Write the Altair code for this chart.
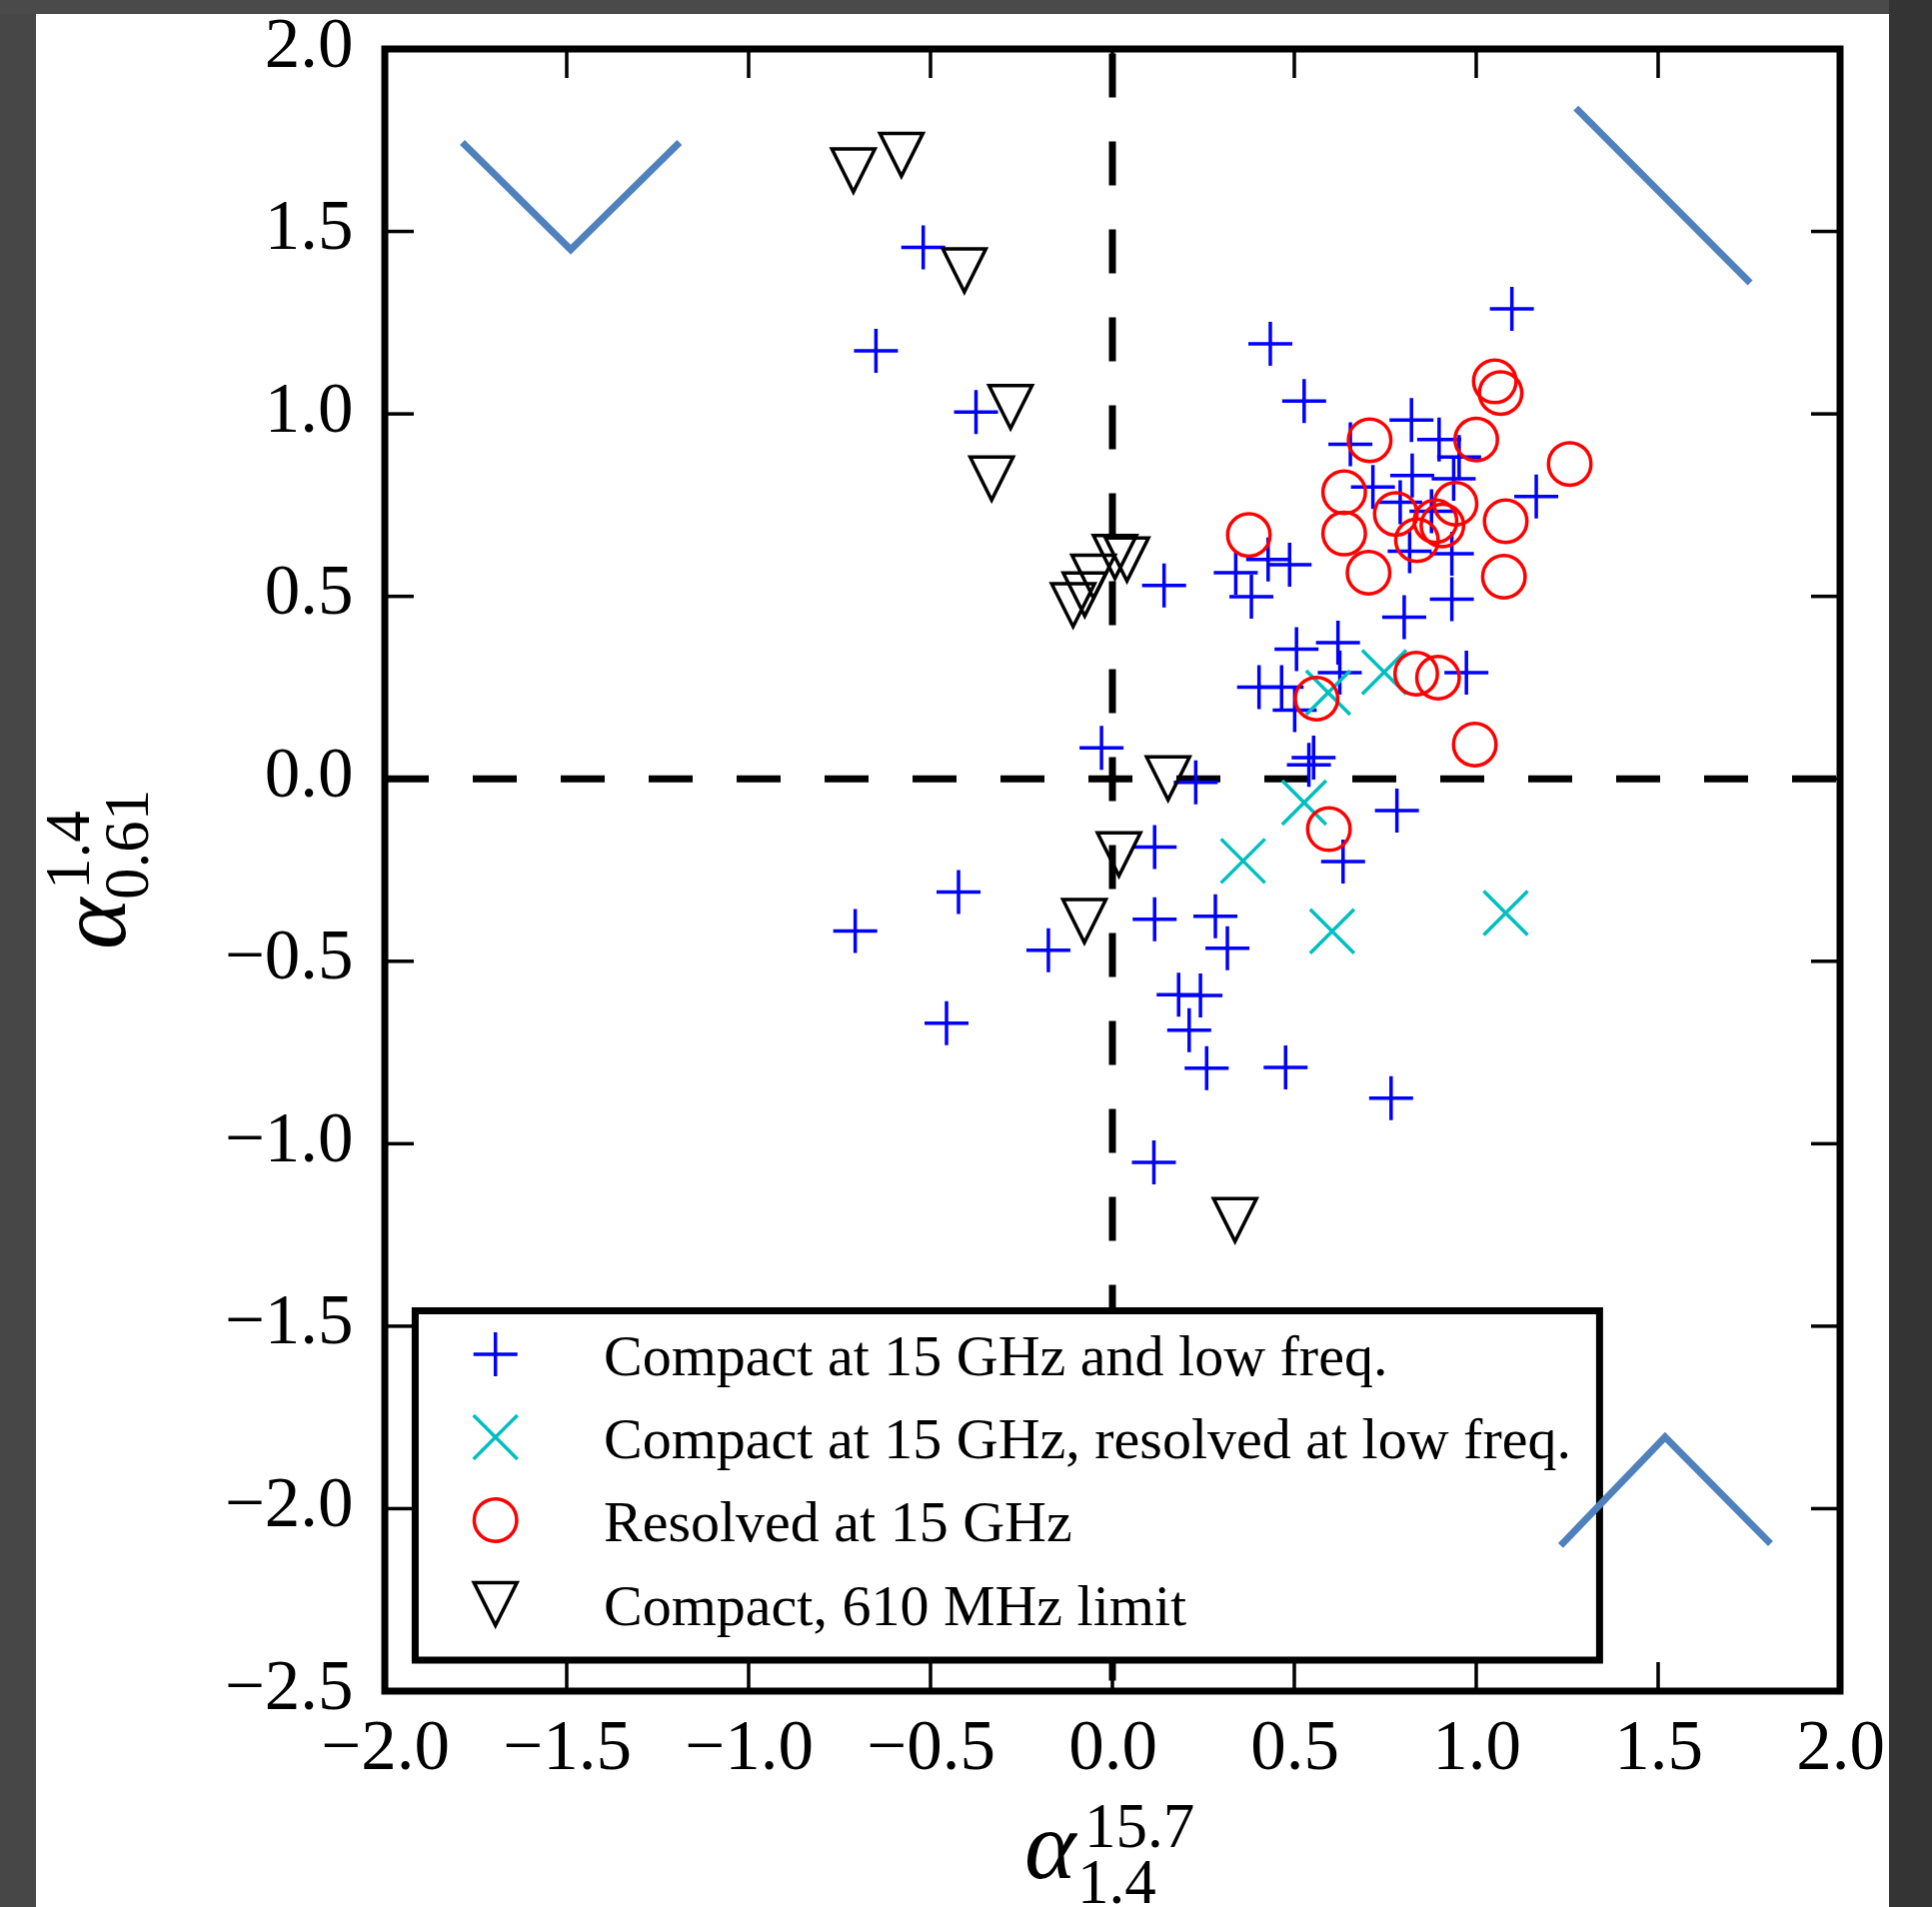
import altair as alt
import pandas as pd

# ---------------- data ----------------
cross_x = [-0.520, -0.650, -0.375, 0.434, 0.527, 1.098, 0.822, 0.898, 0.953, 0.654,
           0.716, 0.824, 0.938, 0.791, 0.877, 1.165, 0.817, 0.933, 0.933, 0.802,
           0.142, 0.339, 0.382, 0.428, 0.487, 0.506, 0.620, 0.625, 0.403, 0.465,
           0.501, 0.973, 0.553, 0.540, -0.030, 0.229, 0.782, 0.634, 0.116, -0.423,
           -0.707, -0.176, 0.116, 0.283, 0.316, 0.182, 0.242, 0.211, -0.456, 0.259,
           0.476, 0.766, 0.114]
cross_y = [1.456, 1.173, 1.005, 1.192, 1.035, 1.288, 0.983, 0.930, 0.882, 0.917,
           0.800, 0.831, 0.822, 0.758, 0.733, 0.774, 0.624, 0.617, 0.492, 0.443,
           0.530, 0.565, 0.499, 0.601, 0.587, 0.355, 0.373, 0.291, 0.251, 0.251,
           0.188, 0.291, 0.058, 0.038, 0.085, -0.010, -0.087, -0.227, -0.187, -0.310,
           -0.417, -0.470, -0.385, -0.377, -0.464, -0.592, -0.594, -0.689, -0.670, -0.793,
           -0.791, -0.875, -1.051]

xmark_x = [0.593, 0.747, 0.527, 0.359, 0.604, 1.081]
xmark_y = [0.236, 0.292, -0.065, -0.225, -0.418, -0.368]

circle_x = [1.051, 1.067, 0.707, 1.000, 1.257, 0.637, 0.779, 0.943, 0.888, 0.907,
            0.837, 1.081, 0.637, 0.375, 0.704, 1.076, 0.835, 0.895, 0.561, 0.996, 0.595]
circle_y = [1.089, 1.057, 0.928, 0.930, 0.863, 0.785, 0.726, 0.754, 0.706, 0.694,
            0.654, 0.706, 0.672, 0.668, 0.565, 0.554, 0.288, 0.277, 0.220, 0.094, -0.138]

tri_x = [-0.712, -0.580, -0.407, -0.280, -0.332, 0.007, 0.040, -0.052, -0.076, -0.108,
         0.153, 0.018, -0.077, 0.337]
tri_y = [1.667, 1.710, 1.393, 1.019, 0.823, 0.608, 0.601, 0.554, 0.505, 0.476,
         0.001, -0.207, -0.390, -1.209]

legend_labels = ["Compact at 15 GHz and low freq.",
                 "Compact at 15 GHz, resolved at low freq.",
                 "Resolved at 15 GHz",
                 "Compact, 610 MHz limit"]

# hand-drawn guide wedges (three polylines)
wedge_group = [0, 0, 0, 1, 1, 2, 2, 2]
wedge_order = [0, 1, 2, 0, 1, 0, 1, 2]
wedge_x = [-1.787, -1.489, -1.190, 1.274, 1.753, 1.232, 1.519, 1.809]
wedge_y = [1.744, 1.450, 1.744, 1.838, 1.359, -2.101, -1.804, -2.096]

x_label_values = [-2.0, -1.5, -1.0, -0.5, 0.0, 0.5, 1.0, 1.5, 2.0]
y_label_values = [-2.5, -2.0, -1.5, -1.0, -0.5, 0.0, 0.5, 1.0, 1.5, 2.0]
x_tick_values = [-1.5, -1.0, -0.5, 0.0, 0.5, 1.0, 1.5]
y_tick_values = [-2.0, -1.5, -1.0, -0.5, 0.0, 0.5, 1.0, 1.5]

# ---------------- layout / style ----------------
W, H = 1456, 1643
PAD = {"left": 385, "top": 49, "right": 92, "bottom": 216}
FONT = "Liberation Serif"
MS = 3.5

PLUS = "M-1,0L1,0M0,-1L0,1"
XSHAPE = "M-1,-1L1,1M-1,1L1,-1"
TRI = "M-1,-1L1,-1L0,1Z"

xscale = alt.Scale(domain=[-2, 2], nice=False, zero=False)
yscale = alt.Scale(domain=[-2.5, 2], nice=False, zero=False)

label_expr = ("datum.value < 0 ? '\u2212' + format(-datum.value, '.1f') "
              ": format(datum.value, '.1f')")

xaxis = alt.Axis(values=x_label_values, domain=False, ticks=False, tickSize=0, grid=False,
                 labelFont=FONT, labelFontSize=71, labelColor="black", labelPadding=77,
                 labelBaseline="alphabetic", labelAlign="center", labelFlush=False,
                 labelOverlap=False, labelBound=False, labelExpr=label_expr)
yaxis = alt.Axis(values=y_label_values, domain=False, ticks=False, tickSize=0, grid=False,
                 labelFont=FONT, labelFontSize=71, labelColor="black", labelPadding=32,
                 labelBaseline="alphabetic", labelAlign="right", labelOffset=17,
                 labelFlush=False, labelOverlap=False, labelBound=False, labelExpr=label_expr)


def X(field):
    return alt.X(field, type="quantitative", scale=xscale, axis=xaxis, title=None)


def Y(field):
    return alt.Y(field, type="quantitative", scale=yscale, axis=yaxis, title=None)


one = alt.Data(values=[{"a": 1}])

layers = []

# dark screenshot frame around the white figure
for (x0, x1, y0, y1, col) in [(-385, -349, -49, 1859, "#474747"),
                              (-385, 1548, -49, -35, "#4a4a4a"),
                              (1505, 1548, -49, 1859, "#343434")]:
    layers.append(alt.Chart(one).mark_rect(color=col).encode(
        x=alt.value(x0), x2=alt.value(x1), y=alt.value(y0), y2=alt.value(y1)))

# dashed zero lines
layers.append(alt.Chart(one).mark_rule(color="black", strokeWidth=7, strokeDash=[44, 44],
                                       strokeDashOffset=83.6).encode(
    x=alt.datum(0), y=alt.datum(2), y2=alt.datum(-2.5)))
layers.append(alt.Chart(one).mark_rule(color="black", strokeWidth=7, strokeDash=[44, 44]).encode(
    y=alt.datum(0), x=alt.datum(-2), x2=alt.datum(2)))

# scatter series
series = [
    (cross_x, cross_y, PLUS, "#0000ff", 1936),
    (xmark_x, xmark_y, XSHAPE, "#00bfbf", 1936),
    (circle_x, circle_y, "circle", "#ff0000", 1806),
    (tri_x, tri_y, TRI, "#000000", 1849),
]
for xs, ys, shp, col, sz in series:
    df = pd.DataFrame({"x": xs, "y": ys})
    layers.append(alt.Chart(df).mark_point(shape=shp, size=sz, filled=False, color=col,
                                           strokeWidth=MS, opacity=1).encode(
        x=X("x"), y=Y("y")))

# legend box
LB = dict(x0=30.4, x1=1215.4, y0=1262.4, y1=1612.0)
layers.append(alt.Chart(one).mark_rect(fill="white", stroke="black", strokeWidth=7).encode(
    x=alt.value(LB["x0"]), x2=alt.value(LB["x1"]), y=alt.value(LB["y0"]), y2=alt.value(LB["y1"])))
row_y = [1305.9, 1388.9, 1471.9, 1555.9]
for (xs, ys, shp, col, sz), lab, ry in zip(series, legend_labels, row_y):
    layers.append(alt.Chart(one).mark_point(shape=shp, size=sz, filled=False, color=col,
                                            strokeWidth=MS, opacity=1).encode(
        x=alt.value(110.7), y=alt.value(ry)))
    layers.append(alt.Chart(one).mark_text(text=lab, font=FONT, fontSize=58, align="left",
                                           baseline="alphabetic", color="black").encode(
        x=alt.value(219), y=alt.value(ry + 21)))

# blue guide wedges
wdf = pd.DataFrame({"g": wedge_group, "i": wedge_order, "x": wedge_x, "y": wedge_y})
layers.append(alt.Chart(wdf).mark_line(color="#4f81bd", strokeWidth=7).encode(
    x=X("x"), y=Y("y"), detail="g:N", order="i:Q"))

# inward ticks on all four sides
xt = pd.DataFrame({"v": x_tick_values})
yt = pd.DataFrame({"v": y_tick_values})
TL = 29
layers.append(alt.Chart(xt).mark_rule(color="black", strokeWidth=3.5).encode(
    x=X("v"), y=alt.value(0), y2=alt.value(TL)))
layers.append(alt.Chart(xt).mark_rule(color="black", strokeWidth=3.5).encode(
    x=X("v"), y=alt.value(H), y2=alt.value(H - TL)))
layers.append(alt.Chart(yt).mark_rule(color="black", strokeWidth=3.5).encode(
    y=Y("v"), x=alt.value(0), x2=alt.value(TL)))
layers.append(alt.Chart(yt).mark_rule(color="black", strokeWidth=3.5).encode(
    y=Y("v"), x=alt.value(W), x2=alt.value(W - TL)))

# axis titles: alpha with super/subscripts
def txt(s, x, y, size, italic=False, angle=0):
    kw = dict(text=s, font=FONT, fontSize=size, align="left", baseline="alphabetic",
              color="black")
    if italic:
        kw["fontStyle"] = "italic"
    if angle:
        kw["angle"] = angle
    return alt.Chart(one).mark_text(**kw).encode(x=alt.value(x), y=alt.value(y))

layers.append(txt("\u03b1", 640, 1830, 98, italic=True))
layers.append(txt("15.7", 700, 1799, 63))
layers.append(txt("1.4", 693, 1855, 63))

layers.append(txt("\u03b1", -259.6, 901, 98, italic=True, angle=270))
layers.append(txt("1.4", -296.3, 841, 63, angle=270))
layers.append(txt("0.61", -236.6, 851, 63, angle=270))

chart = alt.layer(*layers).properties(
    width=W, height=H, padding=PAD,
    autosize=alt.AutoSizeParams(type="none"),
    background="white",
).configure_view(stroke="black", strokeWidth=7)

chart.save("out.html", embed_options={"renderer": "svg", "actions": False})
